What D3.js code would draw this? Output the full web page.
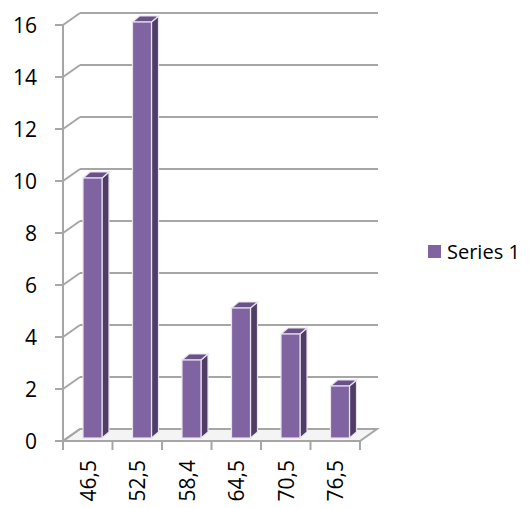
<!DOCTYPE html>
<html>
<head>
<meta charset="utf-8">
<script src="https://cdn.jsdelivr.net/npm/d3@7"></script>
<style>
  body { margin: 0; background: #fff; }
  text { font-family: "Open Sans", Lato, sans-serif; fill: #000; }
</style>
</head>
<body>
<svg id="chart" width="532" height="508"></svg>
<script>
// values
const categories = ["46,5", "52,5", "58,4", "64,5", "70,5", "76,5"];
const values     = [10, 16, 3, 5, 4, 2];
const yTicks     = [0, 2, 4, 6, 8, 10, 12, 14, 16];
const seriesName = "Series 1";

const svg = d3.select("#chart");

// front plane of the 3D box
const left = 63, right = 360, floorY = 441, topY = 25;
const depth = [17, -12];        // wall depth offset
const barDepth = [7, -6];       // bar's own depth

const x = d3.scaleBand().domain(categories).range([left, right]);
const y = d3.scaleLinear().domain([0, 16]).range([floorY, topY]);
// bars sit a little behind the front plane
const yBar = d3.scaleLinear().domain([0, 16]).range([floorY - 3, topY - 3]);

const grid = "#a6a6a6";
const g = svg.append("g");

// floor
g.append("path")
  .attr("d", `M${left},${floorY} L${right},${floorY} L${right + depth[0]},${floorY + depth[1]} L${left + depth[0]},${floorY + depth[1]} Z`)
  .attr("fill", "#f4f4f4").attr("stroke", grid).attr("stroke-width", 2);

// back gridlines + wall diagonals + front ticks
yTicks.forEach(t => {
  const yy = y(t);
  if (t > 0) {
    g.append("line")
      .attr("x1", left + depth[0]).attr("y1", yy + depth[1])
      .attr("x2", right + depth[0] + 1).attr("y2", yy + depth[1])
      .attr("stroke", grid).attr("stroke-width", 2);
  }
  g.append("line")
    .attr("x1", left).attr("y1", yy)
    .attr("x2", left + depth[0]).attr("y2", yy + depth[1])
    .attr("stroke", grid).attr("stroke-width", 2);
  g.append("line")
    .attr("x1", left - 8).attr("y1", yy)
    .attr("x2", left).attr("y2", yy)
    .attr("stroke", grid).attr("stroke-width", 2);
  g.append("text")
    .attr("x", 37).attr("y", yy)
    .attr("text-anchor", "end").attr("dominant-baseline", "central")
    .attr("font-size", 21)
    .text(t);
});

// front vertical axis
g.append("line")
  .attr("x1", left).attr("y1", floorY).attr("x2", left).attr("y2", topY)
  .attr("stroke", grid).attr("stroke-width", 2);

// x ticks
categories.concat([null]).forEach(c => {
  const xx = c === null ? right : x(c);
  g.append("line")
    .attr("x1", xx).attr("y1", floorY).attr("x2", xx).attr("y2", floorY + 9)
    .attr("stroke", grid).attr("stroke-width", 2);
});

// bars
const bw = 19;
const bars = g.selectAll(".bar").data(values).join("g").attr("class", "bar");
bars.each(function (v, i) {
  const b = d3.select(this);
  const x0 = x(categories[i]) + 20, x1 = x0 + bw;
  const y0 = yBar(0), y1 = yBar(v);
  const [dx, dy] = barDepth;
  // side
  b.append("path")
    .attr("d", `M${x1},${y0} L${x1 + dx},${y0 + dy} L${x1 + dx},${y1 + dy} L${x1},${y1} Z`)
    .attr("fill", "#4f3d66").attr("stroke", "#e8e4ee").attr("stroke-width", 1.2);
  // top
  b.append("path")
    .attr("d", `M${x0},${y1} L${x1},${y1} L${x1 + dx},${y1 + dy} L${x0 + dx},${y1 + dy} Z`)
    .attr("fill", "#6a5189").attr("stroke", "#e8e4ee").attr("stroke-width", 1.2);
  // front
  b.append("rect")
    .attr("x", x0).attr("y", y1).attr("width", bw).attr("height", y0 - y1)
    .attr("fill", "#8064a2").attr("stroke", "#e8e4ee").attr("stroke-width", 1.2);
});

// x labels (rotated)
categories.forEach(c => {
  const cx = x(c) + x.bandwidth() / 2;
  g.append("text")
    .attr("transform", `translate(${cx},460) rotate(-90)`)
    .attr("text-anchor", "end").attr("dominant-baseline", "central")
    .attr("font-size", 21)
    .text(c);
});

// legend
svg.append("rect").attr("x", 428).attr("y", 245).attr("width", 13).attr("height", 13).attr("fill", "#8064a2");
svg.append("text").attr("x", 447).attr("y", 251).attr("dominant-baseline", "central")
  .attr("font-size", 20).text(seriesName);
</script>
</body>
</html>
